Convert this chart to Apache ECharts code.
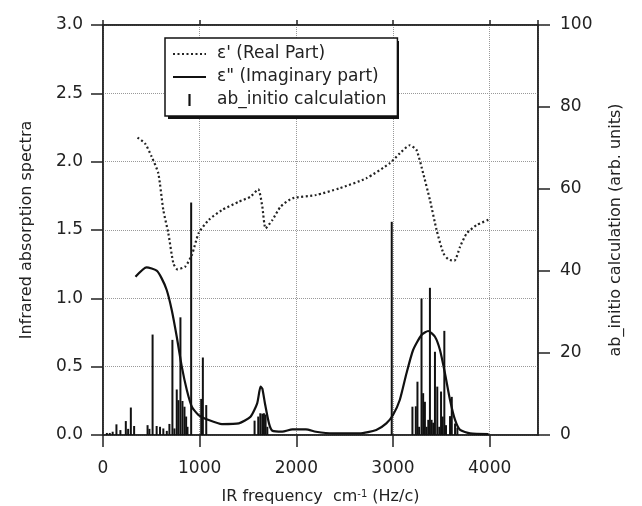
<!DOCTYPE html>
<html>
<head>
<meta charset="utf-8">
<script src="https://cdn.jsdelivr.net/npm/echarts@6.0.0/dist/echarts.min.js"></script>
<style>html,body{margin:0;padding:0;background:#fff}#chart{width:642px;height:506px}</style>
</head>
<body>
<div id="chart"></div>
<script>
// Real part (epsilon')
var realFreq = [357,434,503,572,624,676,728,770,850,919,989,1093,1231,1405,1526,1606,1648,1682,1752,1838,1960,2203,2445,2723,2966,3070,3174,3243,3312,3382,3451,3521,3573,3635,3694,3763,3868,4000];
var realVal  = [2.176,2.134,2.037,1.915,1.646,1.476,1.256,1.212,1.232,1.317,1.476,1.573,1.646,1.707,1.744,1.798,1.671,1.512,1.573,1.671,1.732,1.756,1.805,1.878,1.988,2.061,2.12,2.085,1.915,1.72,1.5,1.33,1.285,1.275,1.378,1.476,1.537,1.578];
// Imaginary part (epsilon'')
var imagFreq = [336,451,555,607,659,711,763,815,867,919,989,1093,1231,1405,1526,1595,1630,1648,1675,1717,1752,1855,1960,2099,2203,2376,2653,2827,2931,3000,3070,3139,3208,3295,3365,3434,3486,3538,3590,3642,3694,3798,3989];
var imagVal  = [1.158,1.227,1.202,1.146,1.061,0.915,0.719,0.5,0.329,0.207,0.146,0.11,0.08,0.085,0.134,0.232,0.354,0.34,0.232,0.085,0.031,0.024,0.041,0.041,0.024,0.012,0.012,0.037,0.085,0.146,0.256,0.45,0.622,0.732,0.761,0.719,0.622,0.45,0.256,0.11,0.037,0.012,0.007];
// ab initio calculation (right axis)
var abFreq = [40,70,100,139,180,236,260,288,322,461,480,513,555,590,624,660,687,718,739,763,780,801,822,843,860,874,912,1016,1033,1068,1568,1606,1627,1648,1665,1682,1700,2987,3201,3236,3253,3270,3295,3312,3330,3347,3365,3382,3399,3416,3434,3458,3479,3497,3514,3531,3548,3590,3608,3642,3666];
var abVal  = [0.5,0.5,0.8,2.6,1.2,3.4,1.5,6.7,2.2,2.4,1.5,24.5,2.2,2.0,1.6,1.0,2.7,23.2,1.6,11.1,8.5,28.7,8.3,6.9,4.5,2.0,56.7,8.8,18.9,7.3,3.5,4.5,5.3,5.2,5.3,5.0,2.0,52,6.9,7.0,13,2,33.3,10.2,8.1,2,3.7,35.9,3.7,3,20.3,11.8,2,10.6,4.5,25.4,2.4,4.6,9.3,2.8,1.8];
var leftTicks = [0, 3, 0.5];
var rightTicks = [0, 100, 20];
var xTicks = [0, 4500, 1000];
var names = ["ε' (Real Part)", 'ε" (Imaginary part)', 'ab_initio calculation'];

function zip(a, b) { return a.map(function (v, i) { return [v, b[i]]; }); }

var FONT = 'DejaVu Sans';
var hideSym = {color: 'transparent', borderColor: 'transparent', borderWidth: 0, opacity: 0};
var chart = echarts.init(document.getElementById('chart'), null, {renderer: 'canvas'});
chart.setOption({
  animation: false,
  backgroundColor: '#fff',
  textStyle: {fontFamily: FONT, color: '#222'},
  grid: {left: 103, right: 104, top: 25, bottom: 71, show: true, borderColor: '#222', borderWidth: 1.5, backgroundColor: 'transparent', containLabel: false, outerBoundsMode: 'none'},
  graphic: [{
    type: 'rect', left: 168, top: 41, z: 90, silent: true,
    shape: {width: 231, height: 78}, style: {fill: '#111'}
  }],
  legend: {
    orient: 'vertical', left: 165, top: 38, z: 100,
    data: [
      {name: names[0], itemStyle: hideSym},
      {name: names[1], itemStyle: hideSym},
      {name: names[2], icon: 'path://M0,0 L2,0 L2,11 L0,11 Z'}
    ],
    itemWidth: 33, itemHeight: 12, itemGap: 5,
    padding: [7, 11, 7, 7],
    backgroundColor: '#fff', borderColor: '#111', borderWidth: 1.5,
    textStyle: {fontFamily: FONT, fontSize: 17, color: '#222', lineHeight: 18, padding: [0, 0, 0, 6]}
  },
  xAxis: [{
    type: 'value', position: 'bottom', min: xTicks[0], max: xTicks[1], interval: xTicks[2],
    name: 'IR frequency  cm{sup|-1} (Hz/c)', nameLocation: 'middle', nameGap: 54,
    nameTextStyle: {fontFamily: FONT, fontSize: 16, color: '#222', rich: {sup: {fontSize: 10, verticalAlign: 'top', lineHeight: 10, padding: [0, 0, 10, 0], fontFamily: FONT, color: '#222'}}},
    axisLine: {show: true, onZero: false, lineStyle: {color: '#222', width: 1.5}},
    axisTick: {show: true, inside: false, length: 12, lineStyle: {color: '#222', width: 1.5}},
    axisLabel: {margin: 25, fontSize: 17, color: '#222', fontFamily: FONT, showMaxLabel: false, formatter: function (v) { return String(v); }},
    splitLine: {show: true, lineStyle: {color: '#999', type: 'dotted', width: 1}}
  }, {
    type: 'value', position: 'top', min: xTicks[0], max: xTicks[1], interval: xTicks[2],
    axisLine: {show: true, onZero: false, lineStyle: {color: '#222', width: 1.5}},
    axisTick: {show: true, inside: false, length: 5, lineStyle: {color: '#222', width: 1.5}},
    axisLabel: {show: false}, splitLine: {show: false}
  }],
  yAxis: [{
    type: 'value', position: 'left', min: leftTicks[0], max: leftTicks[1], interval: leftTicks[2],
    name: 'Infrared absorption spectra', nameLocation: 'middle', nameGap: 68,
    nameTextStyle: {fontFamily: FONT, fontSize: 16, color: '#222'},
    axisLine: {show: true, onZero: false, lineStyle: {color: '#222', width: 1.5}},
    axisTick: {show: true, inside: false, length: 12, lineStyle: {color: '#222', width: 1.5}},
    axisLabel: {margin: 20, fontSize: 17, color: '#222', fontFamily: FONT, formatter: function (v) { return v.toFixed(1); }},
    splitLine: {show: true, lineStyle: {color: '#999', type: 'dotted', width: 1}}
  }, {
    type: 'value', position: 'right', min: rightTicks[0], max: rightTicks[1], interval: rightTicks[2],
    name: 'ab_initio calculation (arb. units)', nameLocation: 'middle', nameGap: 70,
    nameTextStyle: {fontFamily: FONT, fontSize: 16, color: '#222'},
    axisLine: {show: true, onZero: false, lineStyle: {color: '#222', width: 1.5}},
    axisTick: {show: true, inside: false, length: 12, lineStyle: {color: '#222', width: 1.5}},
    axisLabel: {margin: 22, fontSize: 17, color: '#222', fontFamily: FONT},
    splitLine: {show: false}
  }],
  series: [{
    name: names[0], type: 'line', xAxisIndex: 0, yAxisIndex: 0, data: zip(realFreq, realVal),
    symbol: 'none', smooth: 0.2, z: 3,
    lineStyle: {color: '#222', width: 2.2, type: [2, 2.5]}, itemStyle: {color: '#222'}
  }, {
    name: names[1], type: 'line', xAxisIndex: 0, yAxisIndex: 0, data: zip(imagFreq, imagVal),
    symbol: 'none', smooth: 0.2, z: 4,
    lineStyle: {color: '#111', width: 2.2, type: 'solid'}, itemStyle: {color: '#111'}
  }, {
    name: names[2], type: 'bar', xAxisIndex: 0, yAxisIndex: 1, data: zip(abFreq, abVal),
    barWidth: 2, barGap: '-100%', z: 2,
    itemStyle: {color: '#111'}
  }]
});
</script>
</body>
</html>
